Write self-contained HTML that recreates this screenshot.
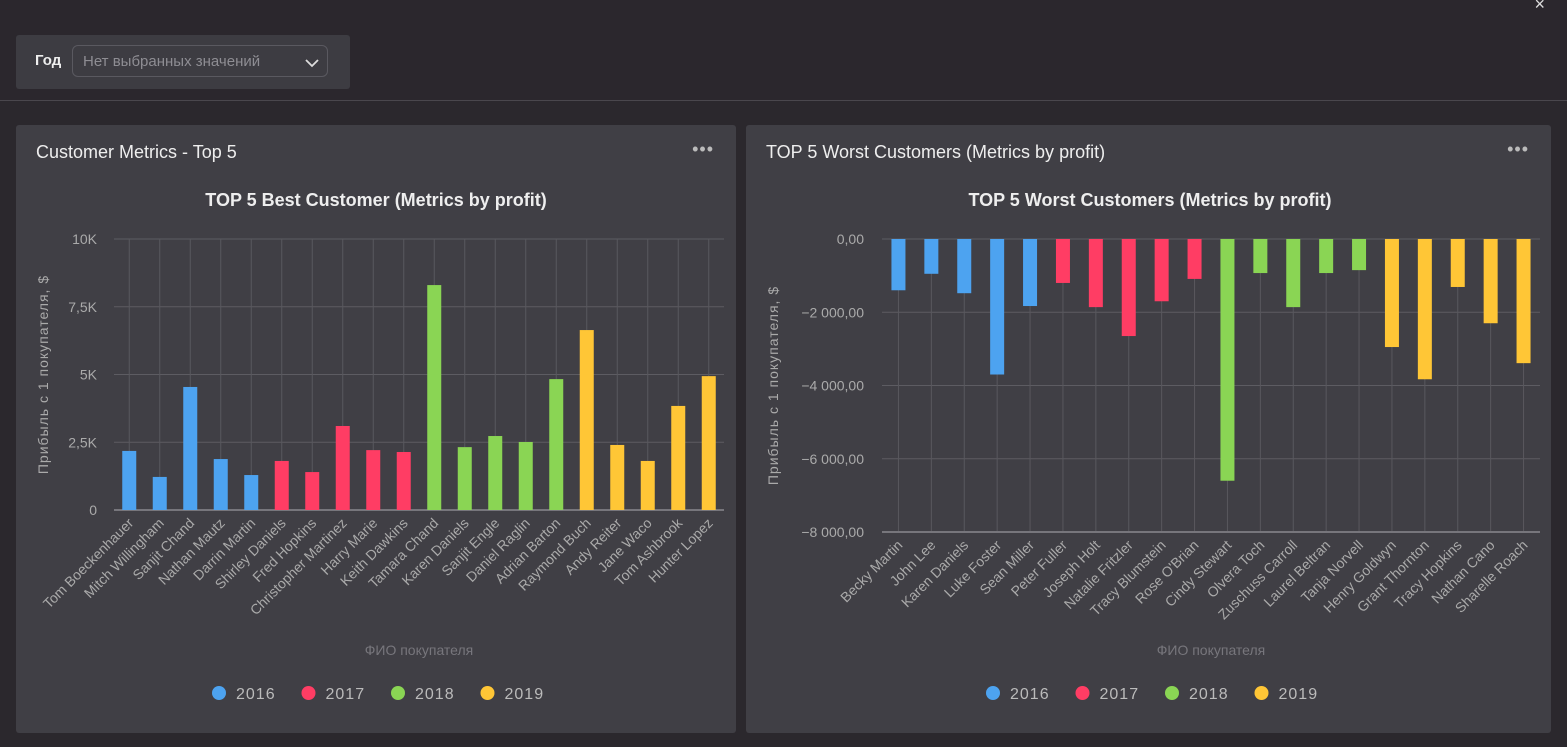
<!DOCTYPE html>
<html><head><meta charset="utf-8">
<style>
body{margin:0;width:1567px;height:747px;background:#2b282d;font-family:"Liberation Sans","Noto Sans CJK SC",sans-serif;overflow:hidden;position:relative}
.top{position:absolute;left:0;top:0;width:1567px;height:100px;background:#2b272d;border-bottom:1px solid #4a474d}
.filter{position:absolute;left:16px;top:35px;width:334px;height:54px;background:#3d3c42;border-radius:3px}
.flabel{position:absolute;left:19px;top:17px;color:#eee;font-size:15px;font-weight:bold}
.sel{position:absolute;left:56px;top:10px;width:256px;height:32px;border:1px solid #5a5960;border-radius:6px;box-sizing:border-box}
.sel span{position:absolute;left:10px;top:7px;color:#8e8d93;font-size:15px}
.panel{position:absolute;top:125px;height:608px;background:#403f45;border-radius:3px}
.ptitle{position:absolute;left:20px;top:17px;color:#eee;font-size:18px}
.dots{position:absolute;right:22px;top:14px;color:#bbb;font-size:18px;letter-spacing:1px}
svg{position:absolute;left:0;top:0}
</style></head><body>
<div class="top">
 <div style="position:absolute;right:22px;top:-6px;color:#ddd;font-size:18px">×</div>
 <div class="filter">
  <div class="flabel">Год</div>
  <div class="sel"><span>Нет выбранных значений</span>
   <svg width="14" height="10" style="left:232px;top:12px"><path d="M1 2 L7 8 L13 2" stroke="#ddd" stroke-width="1.8" fill="none"/></svg></div>
 </div>
</div>
<div class="panel" style="left:16px;width:720px">
 <div class="ptitle">Customer Metrics - Top 5</div>
 <div class="dots">•••</div>
</div>
<div class="panel" style="left:746px;width:805px">
 <div class="ptitle">TOP 5 Worst Customers (Metrics by profit)</div>
 <div class="dots">•••</div>
</div>
<svg id="ch" width="1567" height="747"></svg>
<script>
const colors=['#4da3f0','#ff3d64','#8ad554','#ffc636'];
const years=['2016','2017','2018','2019'];
const bestNames=['Tom Boeckenhauer','Mitch Willingham','Sanjit Chand','Nathan Mautz','Darrin Martin','Shirley Daniels','Fred Hopkins','Christopher Martinez','Harry Marie','Keith Dawkins','Tamara Chand','Karen Daniels','Sanjit Engle','Daniel Raglin','Adrian Barton','Raymond Buch','Andy Reiter','Jane Waco','Tom Ashbrook','Hunter Lopez'];
const bestValues=[2180,1220,4540,1880,1290,1810,1400,3100,2210,2140,8300,2320,2730,2510,4830,6640,2400,1810,3840,4940];
const bestTicks=[0,2500,5000,7500,10000];
const bestTickLabels=['0','2,5K','5K','7,5K','10K'];
const worstNames=['Becky Martin','John Lee','Karen Daniels','Luke Foster','Sean Miller','Peter Fuller','Joseph Holt','Natalie Fritzler','Tracy Blumstein',"Rose O'Brian",'Cindy Stewart','Olvera Toch','Zuschuss Carroll','Laurel Beltran','Tanja Norvell','Henry Goldwyn','Grant Thornton','Tracy Hopkins','Nathan Cano','Sharelle Roach'];
const worstValues=[-1400,-950,-1480,-3700,-1830,-1200,-1860,-2650,-1700,-1090,-6600,-930,-1860,-930,-850,-2950,-3830,-1310,-2300,-3390];
const worstTicks=[0,-2000,-4000,-6000,-8000];
const worstTickLabels=['0,00','−2 000,00','−4 000,00','−6 000,00','−8 000,00'];
const yearIdx=[0,0,0,0,0,1,1,1,1,1,2,2,2,2,2,3,3,3,3,3];
const svg=document.getElementById('ch');
const NS='http://www.w3.org/2000/svg';
function mk(t,a,txt){const e=document.createElementNS(NS,t);for(const k in a)e.setAttribute(k,a[k]);if(txt!==undefined)e.textContent=txt;svg.appendChild(e);return e;}
function chart(o){
 const n=o.names.length,band=(o.x1-o.x0)/n;
 const xs=i=>o.x0+band*(i+0.5);
 const ys=v=>o.yTop+(o.max-v)/(o.max-o.min)*(o.yBot-o.yTop);
 const pc=(o.x0+o.x1)/2;
 let t=mk('text',{x:o.cx,y:206,'text-anchor':'middle',fill:'#eee','font-size':18,'font-weight':'bold'},o.title);
 
 
 o.ticks.forEach((v,i)=>{
  let g=mk('line',{x1:o.x0,x2:o.x1,y1:ys(v),y2:ys(v),stroke:'#5d5c62','stroke-width':1});
  
  
  let l=mk('text',{x:o.labX,y:ys(v)+5,'text-anchor':'end',fill:'#aaa','font-size':14},o.tickLabels[i]);
  
  
 });
 o.names.forEach((nm,i)=>{
  let g=mk('line',{x1:xs(i),x2:xs(i),y1:o.yTop,y2:o.yBot,stroke:'#59585e','stroke-width':1});
  
  
 });
 let ax=mk('line',{x1:o.x0,x2:o.x1,y1:o.yBot,y2:o.yBot,stroke:'#77767c','stroke-width':2});
 
 
 o.names.forEach((nm,i)=>{
  const v=o.values[i],y0=ys(0),y1=ys(v);
  let r=mk('rect',{x:xs(i)-7,y:Math.min(y0,y1),width:14,height:Math.abs(y1-y0),fill:colors[yearIdx[i]]});
  
  
  let l=mk('text',{x:xs(i)+5,y:o.yBot+14,'text-anchor':'end',fill:'#aaa','font-size':14,transform:`rotate(-45 ${xs(i)+5} ${o.yBot+14})`},nm);
  
  
 });
 let yt=mk('text',{x:0,y:0,'text-anchor':'middle',fill:'#aaa','font-size':14,'letter-spacing':'1',transform:`translate(${o.yTitleX} ${(o.yTop+o.yBot)/2}) rotate(-90)`},'Прибыль с 1 покупателя, $');
 
 
 let xt=mk('text',{x:pc,y:655,'text-anchor':'middle',fill:'#77767c','font-size':14},'ФИО покупателя');
 
 
 years.forEach((yr,k)=>{
  const lx=o.cx-157+k*89.5;
  let c=mk('circle',{cx:lx,cy:693,r:7,fill:colors[k]});
  
  
  let tx=mk('text',{x:lx+17,y:699,fill:'#bbb','font-size':16,'letter-spacing':'1'},yr);
  
  
 });
}
chart({names:bestNames,values:bestValues,ticks:bestTicks,tickLabels:bestTickLabels,x0:114,x1:724,yTop:239,yBot:510,max:10000,min:0,axisVal:0,labX:97,yTitleX:48,cx:376,title:'TOP 5 Best Customer (Metrics by profit)'});
chart({names:worstNames,values:worstValues,ticks:worstTicks,tickLabels:worstTickLabels,x0:882,x1:1540,yTop:239,yBot:532,max:0,min:-8000,axisVal:-8000,labX:864,yTitleX:778,cx:1150,title:'TOP 5 Worst Customers (Metrics by profit)'});
</script>
</body></html>
